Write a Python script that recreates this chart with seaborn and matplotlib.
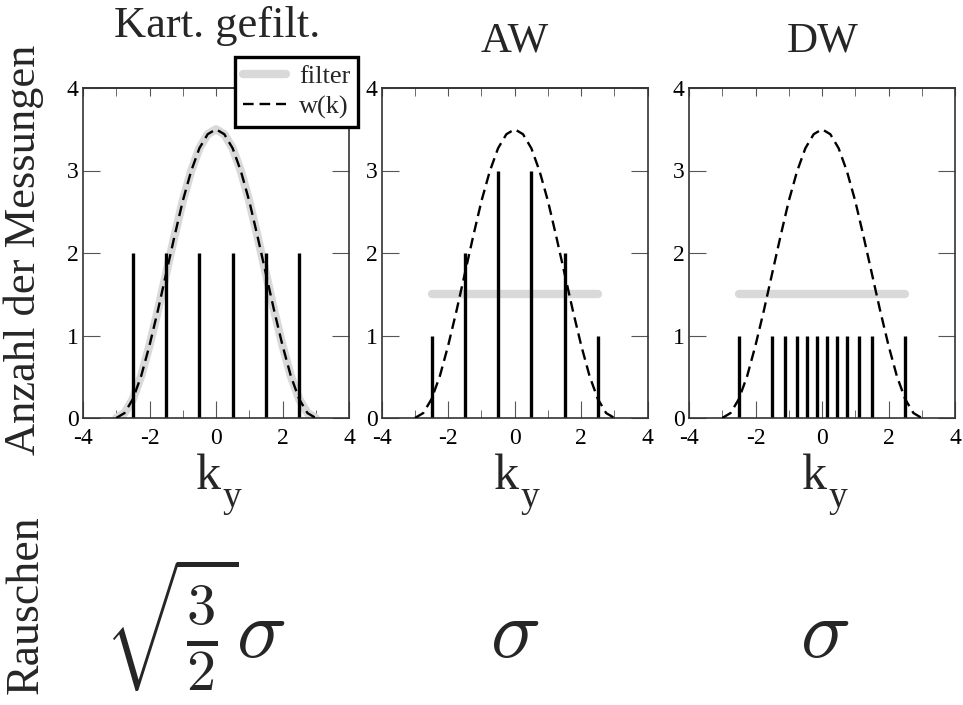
import matplotlib
matplotlib.use('Agg')
import matplotlib.pyplot as plt
from matplotlib.ticker import MultipleLocator
import seaborn as sns

# w(k)
k_curve = [-3.0, -2.75, -2.5, -2.25, -2.0, -1.75, -1.5, -1.25, -1.0, -0.75, -0.5, -0.25, 0.0,
           0.25, 0.5, 0.75, 1.0, 1.25, 1.5, 1.75, 2.0, 2.25, 2.5, 2.75, 3.0]
w_curve = [0.0, 0.06, 0.23, 0.51, 0.88, 1.3, 1.75, 2.2, 2.63, 2.99, 3.27, 3.44, 3.5,
           3.44, 3.27, 2.99, 2.63, 2.2, 1.75, 1.3, 0.88, 0.51, 0.23, 0.06, 0.0]

# Anzahl der Messungen pro k_y
kart_k = [-2.5, -1.5, -0.5, 0.5, 1.5, 2.5]
kart_n = [2, 2, 2, 2, 2, 2]
aw_k = [-2.5, -1.5, -0.5, 0.5, 1.5, 2.5]
aw_n = [1, 2, 3, 3, 2, 1]
dw_k = [-2.5, -1.5, -1.1, -0.75, -0.45, -0.15, 0.15, 0.45, 0.75, 1.1, 1.5, 2.5]
dw_n = [1, 1, 1, 1, 1, 1, 1, 1, 1, 1, 1, 1]

# flacher Filter bei AW und DW
flat_k = [-2.5, 2.5]
flat_v = [1.5, 1.5]

titles = ['Kart. gefilt.', 'AW', 'DW']
noise = [r'$\sqrt{\frac{3}{2}}\sigma$', r'$\sigma$', r'$\sigma$']

sns.set_style('ticks')
plt.rcParams['font.family'] = ['Liberation Serif', 'DejaVu Serif']
plt.rcParams['axes.unicode_minus'] = False

fig = plt.figure(figsize=(9.63, 7.05), dpi=100)

W, H = 963, 705
lefts = [83, 381.7, 689]
bars = [(kart_k, kart_n), (aw_k, aw_n), (dw_k, dw_n)]
gray = '#d9d9d9'
dash = (0, (4.5, 2.5))

for i in range(3):
    ax = fig.add_axes([lefts[i] / W, (H - 418) / H, 266 / W, 330 / H])
    bk, bn = bars[i]
    if i == 0:
        sns.lineplot(x=k_curve, y=w_curve, ax=ax, color=gray, lw=6, label='filter', zorder=1)
    else:
        sns.lineplot(x=flat_k, y=flat_v, ax=ax, color=gray, lw=6, zorder=1, legend=False)
    ax.vlines(bk, 0, bn, color='black', lw=2.4, zorder=2)
    sns.lineplot(x=k_curve, y=w_curve, ax=ax, color='black', lw=1.7, ls=dash,
                 label='w(k)' if i == 0 else None, zorder=3, legend=(i == 0))

    ax.set_xlim(-4, 4)
    ax.set_ylim(0, 4)
    ax.xaxis.set_major_locator(MultipleLocator(2))
    ax.xaxis.set_minor_locator(MultipleLocator(1))
    ax.yaxis.set_major_locator(MultipleLocator(1))
    ax.tick_params(axis='both', which='both', direction='in', colors='#555555',
                   labelcolor='black', labelsize=17, pad=3)
    ax.tick_params(axis='x', which='major', length=12, bottom=True, top=False, pad=7)
    ax.tick_params(axis='x', which='minor', length=6, bottom=True, top=False)
    ax.tick_params(axis='y', which='major', length=12, left=True, right=True)
    top = ax.secondary_xaxis('top')
    top.xaxis.set_major_locator(MultipleLocator(2))
    top.xaxis.set_minor_locator(MultipleLocator(1))
    top.tick_params(which='both', direction='in', length=6, colors='#555555',
                    labeltop=False)
    for s in list(ax.spines.values()) + list(top.spines.values()):
        s.set_color('#333333')
        s.set_linewidth(1.2)
    ax.set_xlabel('')
    ax.set_ylabel('')

    # k_y unter der Achse
    xc = lefts[i] + 133
    fig.text((xc - 8) / W, (H - 489) / H, 'k', fontsize=36, ha='center', va='baseline')
    fig.text((xc + 6) / W, (H - 507) / H, 'y', fontsize=27, ha='left', va='baseline')

    if i == 0:
        leg = ax.legend(loc='upper right', bbox_to_anchor=(1.034, 1.094), fontsize=19,
                        frameon=True, fancybox=False, edgecolor='black', framealpha=1,
                        handlelength=1.6, handletextpad=0.5, borderpad=0.3,
                        labelspacing=0.25, borderaxespad=0)
        leg.get_frame().set_linewidth(2.4)
        leg.set_zorder(10)

# Titel
fig.text(217 / W, (H - 37) / H, titles[0], fontsize=32, ha='center', va='baseline')
fig.text(515 / W, (H - 51) / H, titles[1], fontsize=31, ha='center', va='baseline')
fig.text(823 / W, (H - 51) / H, titles[2], fontsize=31, ha='center', va='baseline')

# Achsentitel links
fig.text(24 / W, (H - 250) / H, 'Anzahl der Messungen', fontsize=32, rotation=90,
         ha='center', va='center')
fig.text(26 / W, (H - 605) / H, 'Rauschen', fontsize=33, rotation=90,
         ha='center', va='center')

# Rauschen je Verfahren
for xc, expr in zip([195, 515, 825], noise):
    fig.text(xc / W, (H - 657) / H, expr, fontsize=60, math_fontfamily='cm',
             ha='center', va='baseline')

fig.savefig('out.png', dpi=100)
